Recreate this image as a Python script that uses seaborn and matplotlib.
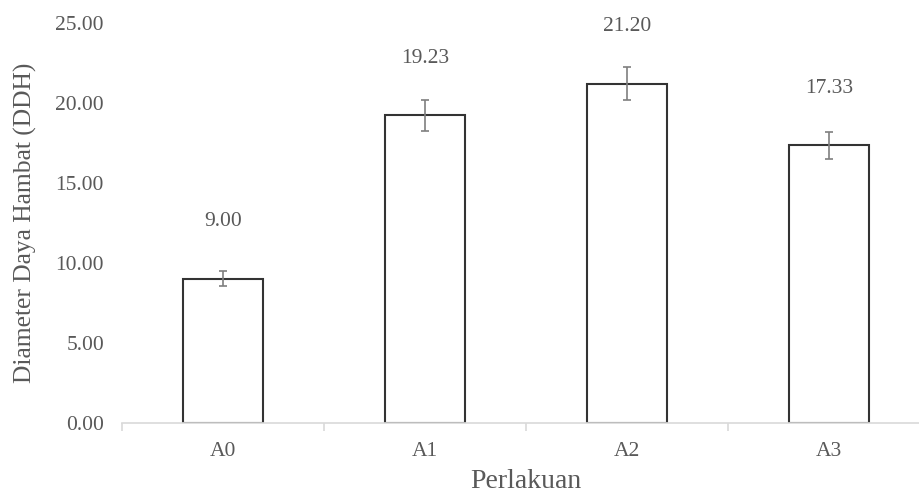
import matplotlib
matplotlib.use("Agg")
import matplotlib.pyplot as plt
from matplotlib.ticker import FixedLocator, FormatStrFormatter
import seaborn as sns
import pandas as pd

categories = ["A0", "A1", "A2", "A3"]
values = [9.00, 19.23, 21.20, 17.33]
errors = [0.47, 0.97, 1.05, 0.87]
value_labels = ["9.00", "19.23", "21.20", "17.33"]
y_ticks = [0, 5, 10, 15, 20, 25]

df = pd.DataFrame({"Perlakuan": categories, "DDH": values})

sns.set_theme(style="white")
plt.rcParams["font.family"] = ["Liberation Serif", "DejaVu Serif"]

TEXT = "#595959"
fig = plt.figure(figsize=(9.19, 4.95), dpi=100)
ax = fig.add_axes([122 / 919, 72.3 / 495, 808 / 919, 400 / 495])

sns.barplot(data=df, x="Perlakuan", y="DDH", ax=ax, color="white",
            edgecolor="#333333", linewidth=1.5, width=0.40, errorbar=None)

ax.errorbar(range(len(categories)), values, yerr=errors, fmt="none",
            ecolor="#7f7f7f", elinewidth=1.2, capsize=3.0, capthick=1.2, zorder=5)

for i, (v, lab) in enumerate(zip(values, value_labels)):
    ax.annotate(lab, (i, v), xytext=(0, 41), textcoords="offset points",
                ha="center", va="center", fontsize=15.5, color=TEXT)

ax.set_xlim(-0.5, len(categories) - 0.5)
ax.set_ylim(0, 25)
ax.yaxis.set_major_locator(FixedLocator(y_ticks))
ax.yaxis.set_major_formatter(FormatStrFormatter("%.2f"))

for s in ["top", "right", "left"]:
    ax.spines[s].set_visible(False)
ax.spines["bottom"].set_color("#d9d9d9")
ax.spines["bottom"].set_linewidth(1.2)

ax.tick_params(axis="y", length=0, pad=13, labelsize=15.5, labelcolor=TEXT)
ax.tick_params(axis="x", which="major", length=0, pad=14, labelsize=15.5, labelcolor=TEXT)
ax.set_xticks([i - 0.5 for i in range(len(categories) + 1)], minor=True)
ax.tick_params(axis="x", which="minor", bottom=True, length=6, width=1.2,
               color="#d9d9d9", direction="out")

ax.set_xlabel("Perlakuan", fontsize=20, color=TEXT, labelpad=6)
ax.set_ylabel("Diameter Daya Hambat (DDH)", fontsize=18.4, color=TEXT)
ax.yaxis.set_label_coords(-85 / 808, 0.5)

fig.savefig("out.png", dpi=100)
